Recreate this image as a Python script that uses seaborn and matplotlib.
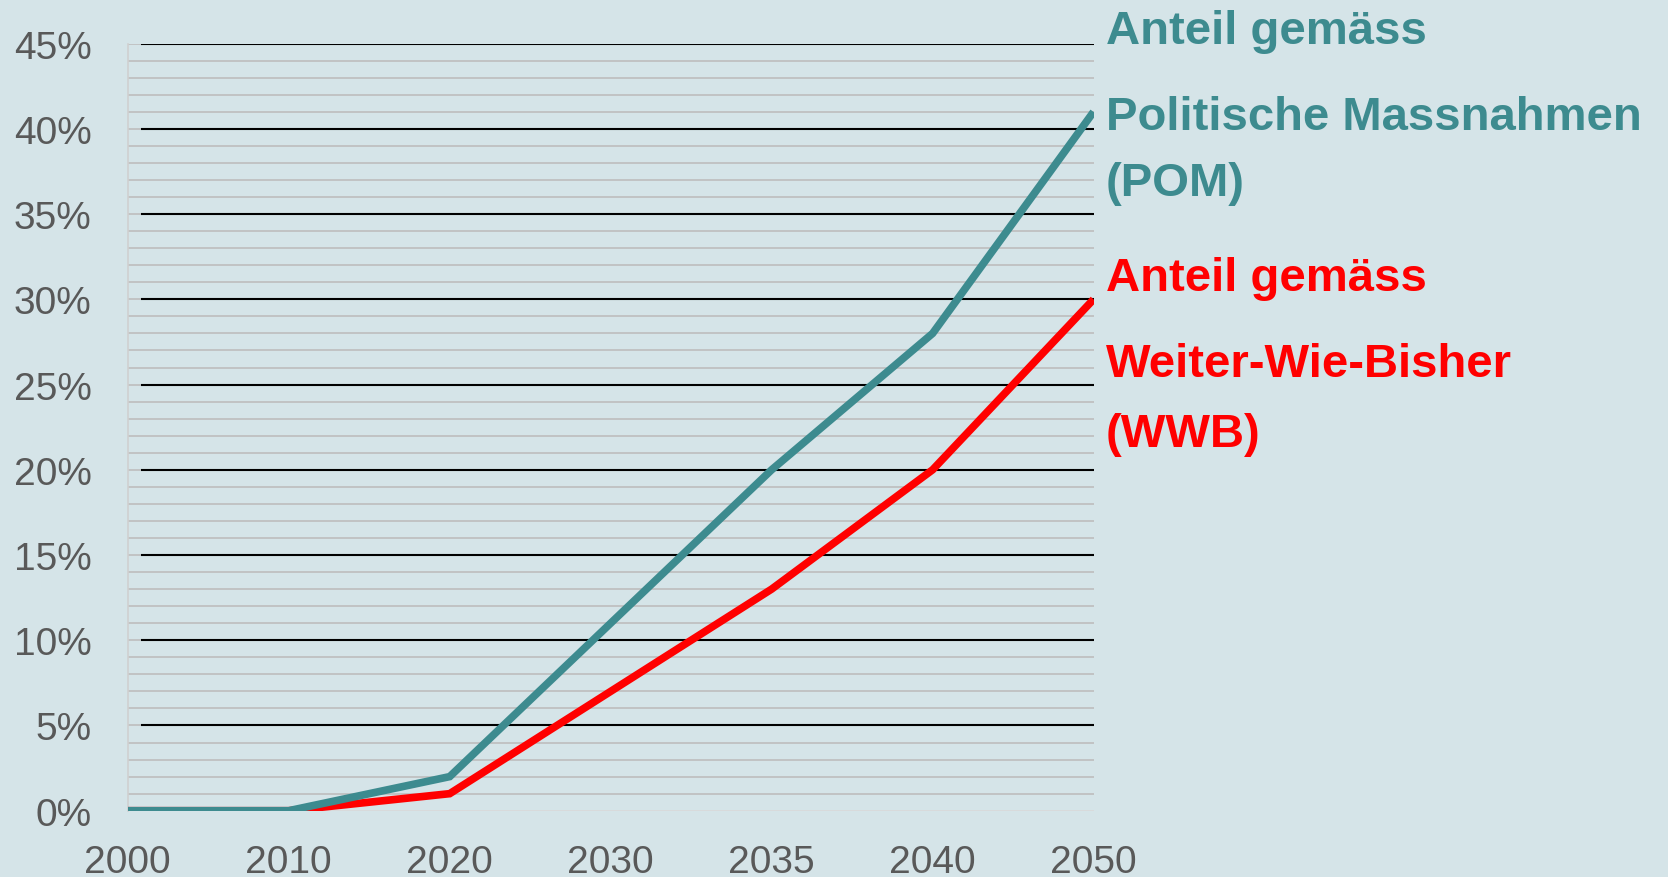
import pandas as pd
import matplotlib
matplotlib.use("Agg")
import matplotlib.pyplot as plt
import seaborn as sns

years = ["2000", "2010", "2020", "2030", "2035", "2040", "2050"]
pom = [0, 0, 2, 11, 20, 28, 41]
wwb = [0, 0, 1, 7, 13, 20, 30]
y_ticks = [0, 5, 10, 15, 20, 25, 30, 35, 40, 45]

bg = "#d5e4e8"
teal = "#3d8b8f"
red = "#ff0000"
grey_txt = "#595959"

df = pd.concat([
    pd.DataFrame({"Jahr": years, "Anteil": wwb, "Szenario": "WWB"}),
    pd.DataFrame({"Jahr": years, "Anteil": pom, "Szenario": "POM"}),
])

sns.set_style("white")
plt.rcParams["font.family"] = ["Liberation Sans", "DejaVu Sans"]

fig = plt.figure(figsize=(16.68, 8.78), dpi=100, facecolor=bg)
ax = fig.add_axes([0.0766, 0.0755, 0.5790, 0.8736])
ax.set_facecolor(bg)

# minor grid every 1 %
for v in range(0, 46):
    ax.axhline(v, color="#bdbdbd" if v > 0 else "#d9d9d9", lw=1.2, zorder=1)
# major grid every 5 %, starting a little right of the axis
ax.hlines(y_ticks[1:], 0.08, 6, color="black", lw=1.5, zorder=2)

sns.lineplot(data=df, x="Jahr", y="Anteil", hue="Szenario",
             palette={"WWB": red, "POM": teal}, sort=False,
             lw=5.5, legend=False, ax=ax, zorder=3,
             solid_capstyle="butt", solid_joinstyle="miter")

ax.set_xlim(0, 6)
ax.set_ylim(0, 45)
ax.set_yticks(y_ticks)
ax.set_yticklabels([f"{v}%" for v in y_ticks])
ax.set_xlabel("")
ax.set_ylabel("")
ax.tick_params(axis="both", length=0, labelsize=28, colors=grey_txt)
ax.tick_params(axis="y", pad=26)
ax.tick_params(axis="x", pad=24)

for s in ["top", "right", "bottom"]:
    ax.spines[s].set_visible(False)
ax.spines["left"].set_color("#d0d0d0")
ax.spines["left"].set_linewidth(1.2)

pom_lines = [("Anteil gemäss", 0.963), ("Politische Massnahmen", 0.866), ("(POM)", 0.790)]
wwb_lines = [("Anteil gemäss", 0.682), ("Weiter-Wie-Bisher", 0.584), ("(WWB)", 0.505)]
for txt, y in pom_lines:
    fig.text(0.663, y, txt, color=teal, fontsize=34, fontweight="bold", va="center")
for txt, y in wwb_lines:
    fig.text(0.663, y, txt, color=red, fontsize=34, fontweight="bold", va="center")

fig.savefig("out.png", dpi=100, facecolor=bg)
